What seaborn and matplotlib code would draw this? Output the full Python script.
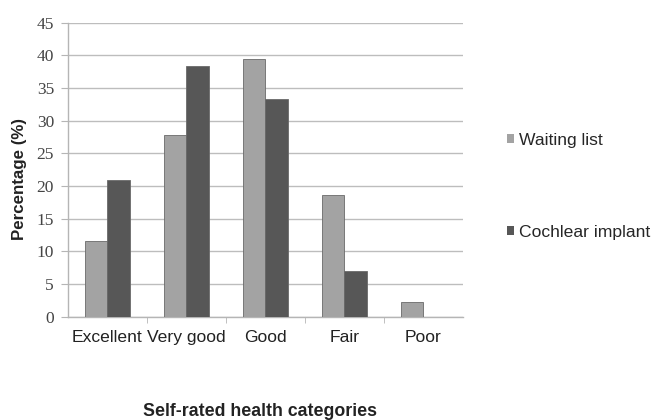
import matplotlib
matplotlib.use("Agg")
import matplotlib.pyplot as plt
from matplotlib.patches import Patch
from matplotlib.ticker import MultipleLocator
import seaborn as sns
import pandas as pd

categories = ["Excellent", "Very good", "Good", "Fair", "Poor"]
waiting_list = [11.6, 27.8, 39.4, 18.6, 2.3]
cochlear_implant = [20.9, 38.4, 33.3, 7.0, 0.0]
groups = ["Waiting list", "Cochlear implant"]
colors = ["#a3a3a3", "#575757"]

df = pd.DataFrame({
    "category": categories * 2,
    "percent": waiting_list + cochlear_implant,
    "group": [groups[0]] * len(categories) + [groups[1]] * len(categories),
})

sns.set_style("white")
plt.rcParams["font.family"] = ["Liberation Sans", "DejaVu Sans"]

fig = plt.figure(figsize=(6.53, 4.20), dpi=100)
ax = fig.add_axes([0.104, 0.246, 0.605, 0.700])

sns.barplot(data=df, x="category", y="percent", hue="group", order=categories,
            hue_order=groups, palette=colors, width=0.57, edgecolor="#6a6a6a",
            linewidth=0.6, ax=ax, legend=False, zorder=3)

ax.set_ylim(0, 45)
ax.set_xlim(-0.5, 4.5)
ax.yaxis.set_major_locator(MultipleLocator(5))
ax.grid(axis="y", color="#bdbdbd", linewidth=1.0, zorder=0)
ax.set_axisbelow(True)

for side in ["top", "right"]:
    ax.spines[side].set_visible(False)
for side in ["left", "bottom"]:
    ax.spines[side].set_color("#b5b5b5")
    ax.spines[side].set_linewidth(1.0)

ax.tick_params(axis="y", which="major", left=True, length=5, color="#b5b5b5",
               labelsize=12.5, labelcolor="#444444", pad=5)
for lbl in ax.get_yticklabels():
    lbl.set_fontfamily("Liberation Serif")
ax.tick_params(axis="x", which="major", bottom=False, labelsize=12.6,
               labelcolor="#222222", pad=6)
ax.set_xticks([0.5, 1.5, 2.5, 3.5], minor=True)
ax.tick_params(axis="x", which="minor", bottom=True, length=4, color="#b5b5b5")

ax.set_xlabel("Self-rated health categories", fontsize=12.8, fontweight="bold",
              color="#222222")
ax.xaxis.set_label_coords(0.486, -0.293)
ax.set_ylabel("Percentage (%)", fontsize=12.2, fontweight="bold", color="#222222")
ax.yaxis.set_label_coords(-0.104, 0.47)

handles = [Patch(facecolor=c, edgecolor="none") for c in colors]
ax.legend(handles, groups, loc="upper left", bbox_to_anchor=(1.093, 0.65),
          frameon=False, fontsize=12.6, handlelength=0.4, handleheight=0.4,
          handletextpad=0.3, labelspacing=4.43, borderaxespad=0)

fig.savefig("out.png", dpi=100, facecolor="white")
